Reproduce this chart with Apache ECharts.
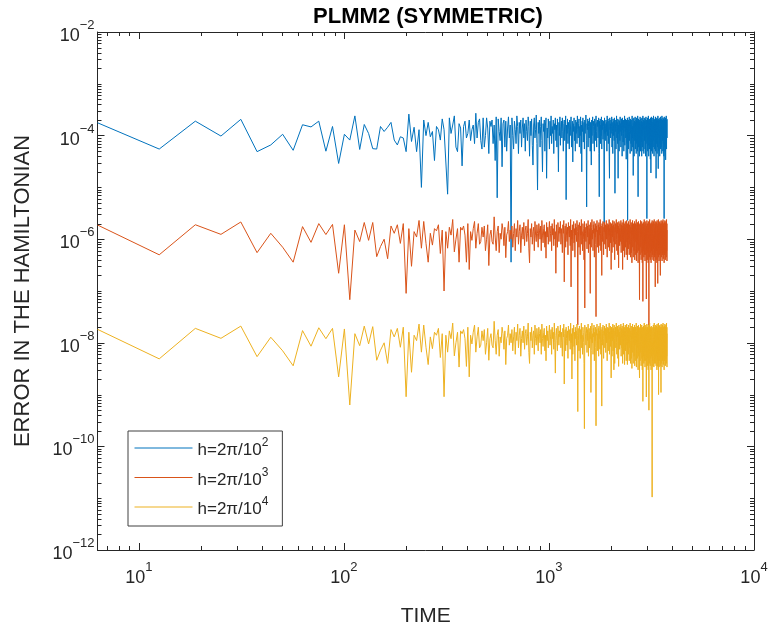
<!DOCTYPE html>
<html>
<head>
<meta charset="utf-8">
<script src="https://cdn.jsdelivr.net/npm/echarts@6/dist/echarts.min.js"></script>
<style>html,body{margin:0;padding:0;background:#fff}#c{width:773px;height:624px}</style>
</head>
<body>
<div id="c"></div>
<script>
// Output every period: TIME = 2*pi*k, k = 1..600
const TIME_STEP = 2 * Math.PI;

// h = 2*pi/10^2, values in units of 1e-4
const UNIT_H2 = 1e-4;
const errH2 = [
1.77,0.55,1.9,0.98,2.06,0.49,0.66,1.06,0.52,1.62,
1.47,1.9,0.50,1.5,0.29,1.06,0.82,2.4,0.54,1.64,
1.1,0.56,0.55,1.5,1.2,1.45,1.8,0.82,0.66,0.95,
0.9,0.49,2.6,0.77,1.45,0.49,1.3,0.10,2.0,1.0,
1.8,0.95,1.2,0.33,1.5,1.3,0.82,2.1,1.3,1.25,
0.074,2.2,1.1,1.6,2.4,0.6,0.49,1.7,1.4,0.26,
1.5,1.9,0.9,1.1,2.0,0.8,1.3,1.6,0.7,2.7,
0.9,1.8,2.1,0.8,0.55,2.2,0.6,1.0,2.2,1.4,
0.45,1.9,1.5,2.0,0.7,1.6,0.33,2.3,0.063,2.1,
1.2,0.8,2.2,0.25,1.7,2.0,0.6,1.9,0.5,1.4,
2.3,0.9,1.6,0.0036,2.2,1.0,0.55,1.9,1.3,0.7,2.4,1.5,0.45,1.8,1.1,2.0,0.6,1.4,2.2,0.9,
1.7,0.5,2.0,1.2,0.8,2.3,1.5,0.4,1.9,1.0,2.1,0.65,0.27,1.6,2.2,0.9,1.3,2.5,0.7,0.089,
1.8,1.1,2.0,0.6,1.5,2.3,0.8,0.2,1.7,1.2,2.0,0.5,1.6,2.2,0.15,1.4,0.9,2.1,1.3,0.55,
1.9,1.0,2.4,0.7,1.5,1.1,2.0,0.45,1.7,1.3,2.2,0.8,1.6,0.6,2.1,1.2,0.2,1.8,1.0,2.3,
0.65,1.5,1.9,0.9,2.2,1.2,0.5,1.7,2.0,0.8,1.4,2.4,0.058,1.6,1.1,2.1,0.7,1.8,1.3,0.55,
2.0,1.0,1.6,2.3,0.6,1.4,1.9,0.31,1.7,1.2,2.2,0.8,1.5,0.5,2.0,1.1,1.8,0.7,2.4,1.3,
0.9,1.7,2.1,0.6,1.5,1.0,2.3,0.45,1.6,0.2,1.9,1.2,2.2,0.75,1.4,1.8,0.55,2.0,1.1,1.6,
2.5,0.8,0.042,1.7,1.3,2.1,0.6,1.5,1.9,0.9,2.2,1.2,0.5,1.8,1.4,0.27,2.0,1.0,1.6,2.3,
0.7,1.5,1.9,1.1,0.5,2.1,1.3,1.7,0.8,2.4,1.2,0.6,1.8,1.5,2.0,0.9,1.4,2.2,0.45,0.066,
1.9,1.2,2.1,0.7,1.6,1.0,2.3,0.55,1.7,1.3,2.0,0.85,1.5,1.9,0.6,0.02,2.2,1.1,1.7,1.4,
0.8,2.0,1.2,1.8,0.5,2.4,1.0,1.6,2.1,0.7,1.4,1.9,0.4,0.15,2.2,1.3,1.7,0.9,2.0,1.1,
1.5,2.3,0.6,1.8,1.2,0.45,2.1,1.0,1.6,1.9,0.8,2.2,1.4,0.077,1.7,1.2,2.0,0.55,1.5,2.4,
0.9,1.3,1.8,0.7,2.1,0.15,1.6,1.1,2.0,0.5,1.4,1.9,0.8,2.3,1.2,1.7,0.6,1.5,2.1,1.0,
1.8,0.4,2.2,1.3,1.6,0.75,2.0,1.1,0.5,1.9,1.4,2.4,0.65,1.7,1.2,2.1,0.9,1.5,0.35,2.0,
1.3,1.8,0.7,2.2,0.023,1.6,1.0,2.0,0.55,1.7,1.4,2.3,0.8,1.2,1.9,0.45,2.1,1.1,1.6,0.7,
2.0,1.3,0.5,1.8,2.4,0.9,1.5,0.6,2.1,0.17,1.7,1.2,2.2,0.4,1.6,1.9,0.8,1.4,2.3,0.55,
1.8,1.1,2.0,0.45,1.6,2.2,0.7,1.3,1.9,0.5,2.4,1.0,0.066,1.7,2.1,0.6,1.5,1.2,2.0,0.4,
1.8,0.9,2.3,1.4,0.5,1.7,2.1,0.75,1.2,1.9,0.4,2.2,1.5,0.6,1.8,1.0,2.4,0.5,1.6,1.3,
2.0,0.45,1.7,2.2,0.8,1.4,1.9,0.55,2.1,1.1,0.4,1.8,2.3,0.7,1.5,1.2,2.0,0.025,1.7,0.9,
2.2,0.5,1.6,1.9,0.65,2.4,1.3,0.4,1.8,1.1,2.1,0.55,1.5,2.0,0.8,1.7,0.35,2.2,1.2,0.19,
1.9,1.0,2.3,0.5,1.6,2.0,0.7,1.4,1.8,0.45,2.2,1.2,0.6,1.9,2.4,0.8,1.5,0.4,2.1,1.3,
1.7,0.55,2.0,1.1,0.9,2.3,0.5,1.6,1.9,0.15,2.1,1.4,0.7,1.8,2.2,0.45,1.3,2.0,0.6,1.7,
2.4,0.8,0.23,1.9,1.2,2.1,0.5,1.6,2.0,0.9,1.5,0.4,2.2,1.3,0.7,1.8,2.3,0.55,1.4,1.9,
0.6,2.1,1.2,1.7,0.45,2.4,1.0,1.5,2.0,0.8,1.8,0.5,2.2,1.3,0.7,1.9,2.1,0.4,1.6,0.025,
2.3,1.1,1.7,0.6,2.0,1.4,0.5,1.9,2.2,0.34,1.5,1.8,0.75,2.4,1.2,0.55,2.0,1.6,0.9,2.1
];

// h = 2*pi/10^3, values in units of 1e-6
const UNIT_H3 = 1e-6;
const errH3 = [
1.88,0.50,1.9,1.24,2.15,0.55,1.3,0.7,0.36,1.75,
0.87,2.0,1.23,1.93,0.22,1.9,0.068,1.5,0.9,2.1,
0.95,2.1,0.46,0.72,1.0,0.42,1.8,1.3,1.9,0.83,
2.0,0.09,1.6,0.3,1.4,1.1,2.3,0.67,2.2,0.83,
0.36,1.3,0.77,1.6,1.45,1.9,0.53,1.5,0.1,1.4,
0.67,1.7,1.2,2.4,0.57,1.0,1.6,0.36,1.7,1.5,
1.8,1.2,0.36,2.0,0.26,1.4,0.95,1.6,2.2,0.67,
1.3,2.0,0.8,0.9,1.7,1.1,1.8,0.6,1.0,1.9,
0.31,1.2,1.5,0.9,0.8,2.7,1.1,0.6,1.4,1.8,
0.55,1.3,1.0,2.0,1.5,0.75,1.7,0.44,1.2,1.4,
2.2,0.9,1.5,1.0,1.8,0.7,1.3,2.0,0.6,1.6,1.1,2.3,0.8,1.4,1.9,0.55,1.2,1.7,1.0,2.1,
0.75,1.5,1.8,0.9,1.3,2.4,0.65,0.35,1.6,1.1,2.0,0.8,1.4,1.7,0.6,2.2,1.2,0.9,1.9,1.3,
0.7,2.0,1.5,1.0,1.8,0.6,2.3,1.2,0.85,1.6,1.9,0.7,1.4,0.43,2.1,1.1,1.7,0.8,1.5,2.2,
0.9,1.3,1.8,0.6,2.0,1.2,1.6,0.75,2.4,1.0,1.4,0.22,1.9,1.1,0.7,2.1,1.5,0.9,1.7,1.3,
2.2,0.8,1.6,1.0,0.55,1.9,1.3,2.3,0.15,1.5,1.8,0.7,2.0,1.2,0.9,1.7,0.5,2.1,1.4,1.1,
1.8,0.75,2.4,0.12,1.5,1.0,1.9,0.6,1.3,2.2,0.85,1.6,0.45,2.0,1.2,1.7,0.9,2.3,1.4,0.022,
1.9,1.1,0.7,2.1,1.5,0.5,1.8,1.2,2.4,0.8,1.4,0.6,2.0,1.6,1.0,0.4,2.2,0.047,1.7,1.3,
0.9,2.0,1.5,0.65,1.8,1.1,2.3,0.55,1.4,1.9,0.8,1.6,0.09,2.1,1.2,0.7,1.7,2.4,1.0,1.5,
0.6,1.9,1.3,2.2,0.45,1.6,1.1,2.0,0.8,0.032,1.8,1.4,2.3,0.7,1.5,1.0,1.9,0.55,2.1,1.2,
1.7,0.75,2.4,1.3,0.6,1.8,1.0,0.2,2.0,1.5,0.9,2.2,1.2,0.5,1.7,1.4,2.1,0.8,1.6,1.9,
0.65,1.3,2.3,1.0,1.8,0.45,1.5,2.0,1.1,0.7,1.9,1.4,2.4,0.6,1.6,1.2,2.1,0.85,1.7,0.26,
2.0,1.3,0.55,1.8,1.1,2.3,0.7,1.5,1.9,0.9,2.2,1.2,0.4,1.7,1.4,2.0,0.8,1.6,2.4,1.0,
0.6,1.9,1.3,2.1,0.5,1.5,1.8,0.28,2.2,1.1,1.6,0.75,2.0,1.4,0.9,1.7,2.3,0.55,1.2,1.9,
0.8,2.1,1.5,0.26,1.8,1.0,2.4,0.6,1.6,1.3,2.0,0.45,1.7,1.1,2.2,0.7,1.4,1.9,0.5,1.6,
2.3,0.9,1.5,0.4,2.0,1.2,1.8,0.65,2.2,1.0,1.4,0.5,1.9,1.6,0.8,2.4,1.1,0.45,1.7,1.3,
2.1,0.55,1.5,0.35,1.9,1.2,2.3,0.7,1.6,0.45,2.0,1.0,1.8,0.6,1.4,2.2,0.4,1.7,0.9,1.5,
2.0,0.5,1.3,2.4,0.38,1.6,1.1,1.9,0.55,2.1,0.8,1.5,0.35,1.8,2.2,0.6,1.2,1.9,0.45,0.068,
1.7,2.0,0.5,1.4,2.3,0.7,1.6,0.4,1.9,1.1,2.2,0.55,1.5,0.35,1.8,2.0,0.063,1.3,0.6,2.1,
1.0,0.45,1.7,2.4,0.5,1.4,1.9,0.38,2.2,0.8,1.6,0.5,2.0,1.2,0.07,1.8,0.6,2.3,1.1,0.4,
1.7,2.0,0.55,1.5,0.35,2.2,1.3,0.6,0.022,1.9,0.45,1.6,2.4,0.7,1.2,0.4,2.0,1.5,0.55,1.8,
0.35,2.1,1.4,0.6,1.9,0.45,2.3,1.0,0.5,1.7,2.0,0.4,1.5,2.2,0.65,1.2,0.38,1.8,2.4,0.5,
1.6,0.45,2.0,1.1,0.12,1.9,0.55,2.2,1.4,0.4,1.7,2.1,0.6,1.3,0.35,2.3,1.0,0.5,1.8,0.14,
2.0,0.6,1.5,2.4,0.45,1.2,1.9,0.38,2.1,0.7,1.6,0.5,2.2,1.3,0.4,0.2,1.8,2.0,0.55,1.4,
2.3,0.45,1.7,0.6,2.0,1.1,0.38,1.9,2.2,0.5,1.5,0.7,2.4,1.2,0.42,1.8,2.0,0.55,1.4,0.35,
2.1,1.6,0.5,1.9,2.3,0.6,1.3,0.4,2.0,1.7,0.55,2.2,1.0,0.45,1.8,2.4,0.6,1.5,0.38,2.0
];

// h = 2*pi/10^4, values in units of 1e-8
const UNIT_H4 = 1e-8;
const errH4 = [
1.82,0.49,1.9,1.22,2.1,0.54,1.28,0.7,0.36,1.72,
0.86,1.95,1.2,1.9,0.22,1.85,0.063,1.5,0.88,2.1,
0.95,2.05,0.46,0.72,1.0,0.4,1.8,1.3,1.9,0.82,
2.0,0.091,1.6,0.27,1.4,1.1,2.3,0.66,2.2,0.82,
0.38,1.3,0.77,1.6,1.4,1.9,0.52,1.5,0.091,1.4,
0.66,1.7,1.2,2.4,0.56,1.0,1.6,0.34,1.7,1.5,
1.8,1.2,0.35,2.0,0.22,1.4,0.95,1.6,2.2,0.66,
1.3,2.0,0.8,0.9,1.7,1.1,1.8,0.6,1.0,1.9,
0.46,1.2,1.5,0.9,0.8,2.6,1.1,0.6,1.4,1.8,
0.55,1.3,1.0,2.0,1.5,0.75,1.7,0.38,1.2,1.4,
2.2,0.9,1.5,1.0,1.8,0.7,1.3,2.0,0.6,1.6,1.1,2.3,0.8,1.4,1.9,0.55,1.2,1.7,1.0,2.1,
0.75,1.5,1.8,0.9,1.3,2.4,0.65,0.4,1.6,1.1,2.0,0.8,1.4,1.7,0.6,2.2,1.2,0.9,1.9,1.3,
0.7,2.0,1.5,1.0,1.8,0.6,2.3,1.2,0.85,1.6,1.9,0.7,1.4,0.45,2.1,1.1,1.7,0.8,1.5,2.2,
0.9,1.3,1.8,0.6,2.0,1.2,1.6,0.75,2.4,1.0,0.26,1.4,1.9,1.1,0.7,2.1,1.5,0.9,1.7,1.3,
2.2,0.8,1.6,1.0,0.55,1.9,1.3,2.3,0.16,1.5,1.8,0.7,2.0,1.2,0.9,1.7,0.5,2.1,1.4,1.1,
1.8,0.75,2.4,1.0,1.5,0.2,1.9,0.6,1.3,2.2,0.85,1.6,0.45,2.0,1.2,1.7,0.9,2.3,1.4,0.047,
1.9,1.1,0.7,2.1,1.5,0.5,1.8,1.2,2.4,0.8,1.4,0.6,2.0,1.6,1.0,0.4,0.022,2.2,1.7,1.3,
0.9,2.0,1.5,0.65,1.8,1.1,2.3,0.55,1.4,1.9,0.8,1.6,1.2,2.1,0.11,0.7,1.7,2.4,1.0,1.5,
0.6,1.9,1.3,2.2,0.45,1.6,1.1,2.0,0.8,0.025,1.8,1.4,2.3,0.7,1.5,1.0,1.9,0.55,2.1,1.2,
1.7,0.75,2.4,1.3,0.6,1.8,1.0,0.06,2.0,1.5,0.9,2.2,1.2,0.5,1.7,1.4,2.1,0.8,1.6,1.9,
0.65,1.3,2.3,1.0,1.8,0.45,1.5,2.0,1.1,0.7,1.9,1.4,2.4,0.6,1.6,1.2,2.1,0.85,1.7,0.21,
2.0,1.3,0.55,1.8,1.1,2.3,0.7,1.5,1.9,0.3,2.2,1.2,0.4,1.7,1.4,2.0,0.8,1.6,2.4,1.0,
0.6,1.9,1.3,2.1,0.5,1.5,1.8,0.35,2.2,1.1,1.6,0.75,2.0,1.4,0.9,1.7,2.3,0.55,1.2,1.9,
0.8,2.1,1.5,0.4,1.8,1.0,2.4,0.6,1.6,1.3,2.0,0.38,1.7,1.1,2.2,0.7,1.4,1.9,0.45,1.6,
2.3,0.9,1.5,0.38,2.0,1.2,1.8,0.6,2.2,1.0,1.4,0.45,1.9,1.6,0.8,2.4,1.1,0.4,1.7,1.3,
2.1,0.5,1.5,0.32,1.9,1.2,2.3,0.65,1.6,0.4,2.0,1.0,1.8,0.55,1.4,2.2,0.36,1.7,0.9,1.5,
2.0,0.45,1.3,2.4,0.34,1.6,1.1,1.9,0.5,2.1,0.8,1.5,0.3,1.8,2.2,0.55,1.2,1.9,0.4,0.21,
1.7,2.0,0.45,1.4,2.3,0.65,1.6,0.36,1.9,1.1,2.2,0.5,1.5,0.3,1.8,2.0,0.074,1.3,0.55,2.1,
1.0,0.4,1.7,2.4,0.45,1.4,1.9,0.34,2.2,0.8,1.6,0.45,2.0,1.2,0.09,1.8,0.55,2.3,1.1,0.36,
1.7,2.0,0.5,1.5,0.3,2.2,1.3,0.55,0.05,1.9,0.4,1.6,2.4,0.65,1.2,0.36,2.0,1.5,0.5,1.8,
0.3,2.1,1.4,0.55,1.9,0.4,0.00105,1.0,0.45,1.7,2.0,0.36,1.5,2.2,0.6,1.2,0.34,1.8,2.4,0.45,
1.6,0.4,2.0,1.1,0.4,1.9,0.5,2.2,1.4,0.36,1.7,2.1,0.55,1.3,0.3,2.3,1.0,0.45,1.8,0.35,
2.0,0.55,1.5,2.4,0.1,1.2,1.9,0.34,2.1,0.65,1.6,0.45,2.2,1.3,0.36,0.45,1.8,2.0,0.5,0.11,
2.3,0.4,1.7,0.55,2.0,1.1,0.34,1.9,2.2,0.45,1.5,0.65,2.4,1.2,0.38,1.8,2.0,0.5,1.4,0.3,
2.1,1.6,0.45,1.9,2.3,0.55,1.3,0.36,2.0,1.7,0.5,2.2,1.0,0.4,1.8,2.4,0.55,1.5,0.34,2.0
];

const seriesNames = ['h=2\u03c0/10^2', 'h=2\u03c0/10^3', 'h=2\u03c0/10^4'];
const seriesColors = ['#0072BD', '#D95319', '#EDB120'];
const seriesValues = [errH2, errH3, errH4];
const seriesUnits = [UNIT_H2, UNIT_H3, UNIT_H4];

const X_MIN = TIME_STEP, X_MAX = 1e4;
const Y_MIN = 1e-12, Y_MAX = 1e-2;
const xMinorTicks = [7,8,9,20,30,40,50,60,70,80,90,200,300,400,500,600,700,800,900,2000,3000,4000,5000,6000,7000,8000,9000];
const yMinorTicks = [];
for (let e = -12; e <= -3; e++) {
  if (e % 2 !== 0) yMinorTicks.push(Math.pow(10, e));
  for (let m = 2; m <= 9; m++) yMinorTicks.push(m * Math.pow(10, e));
}

const FONT = '"Liberation Sans", Arial, Helvetica, sans-serif';
const INK = '#262626';

function powLabel(v) {
  const lg = Math.log10(v);
  const e = Math.round(lg);
  if (Math.abs(lg - e) > 1e-6) return '';
  return '{b|10}{s|' + String(e).replace('-', '\u2212') + '}';
}
const labelRich = {
  b: { fontSize: 18, fontFamily: FONT, color: INK, lineHeight: 26, verticalAlign: 'bottom' },
  s: { fontSize: 13, fontFamily: FONT, color: INK, lineHeight: 14, verticalAlign: 'top' }
};

const chart = echarts.init(document.getElementById('c'), null, { renderer: 'canvas' });

const lineSeries = seriesValues.map((vals, si) => ({
  name: seriesNames[si],
  type: 'line',
  xAxisIndex: 0,
  yAxisIndex: 0,
  data: vals.map((v, i) => [TIME_STEP * (i + 1), v * seriesUnits[si]]),
  symbol: 'none',
  showSymbol: false,
  lineStyle: { width: 1, color: seriesColors[si] },
  itemStyle: { color: seriesColors[si] },
  color: seriesColors[si],
  animation: false,
  silent: true,
  clip: true,
  z: 2
}));

const minorX = {
  type: 'custom',
  name: 'minorX',
  xAxisIndex: 0, yAxisIndex: 0,
  data: xMinorTicks.map(v => [v, 1e-7]),
  encode: { x: 0, y: 1 },
  silent: true, animation: false, clip: false, z: 5,
  renderItem: function (params, api) {
    const cs = params.coordSys;
    const p = api.coord([api.value(0), api.value(1)]);
    const x = Math.round(p[0]) + 0.5;
    const b = cs.y + cs.height, t = cs.y;
    return { type: 'group', children: [
      { type: 'line', shape: { x1: x, y1: b, x2: x, y2: b - 4 }, style: { stroke: INK, lineWidth: 1 } },
      { type: 'line', shape: { x1: x, y1: t, x2: x, y2: t + 4 }, style: { stroke: INK, lineWidth: 1 } }
    ]};
  }
};
const minorY = {
  type: 'custom',
  name: 'minorY',
  xAxisIndex: 0, yAxisIndex: 0,
  data: yMinorTicks.map(v => [100, v]),
  encode: { x: 0, y: 1 },
  silent: true, animation: false, clip: false, z: 5,
  renderItem: function (params, api) {
    const cs = params.coordSys;
    const p = api.coord([api.value(0), api.value(1)]);
    const y = Math.round(p[1]) + 0.5;
    const l = cs.x, r = cs.x + cs.width;
    return { type: 'group', children: [
      { type: 'line', shape: { x1: l, y1: y, x2: l + 4, y2: y }, style: { stroke: INK, lineWidth: 1 } },
      { type: 'line', shape: { x1: r, y1: y, x2: r - 4, y2: y }, style: { stroke: INK, lineWidth: 1 } }
    ]};
  }
};

const axisLineStyle = { show: true, lineStyle: { color: INK, width: 1 } };

chart.setOption({
  backgroundColor: '#ffffff',
  animation: false,
  color: seriesColors,
  title: {
    text: 'PLMM2 (SYMMETRIC)',
    left: 423, top: 1, textAlign: 'center',
    textStyle: { fontFamily: FONT, fontSize: 22, fontWeight: 'bold', color: '#000' }
  },
  grid: { left: 97.5, right: 19, top: 32, bottom: 74, containLabel: false, outerBoundsMode: 'none' },
  legend: {
    data: seriesNames,
    orient: 'vertical',
    left: 128, top: 431,
    padding: [6, 14, 8, 6],
    itemWidth: 58, itemHeight: 14, itemGap: 7.5,
    backgroundColor: '#fff',
    borderColor: '#404040', borderWidth: 1, borderRadius: 0,
    itemStyle: { opacity: 0 },
    lineStyle: { width: 1 },
    formatter: function (n) {
      const parts = n.split('^');
      return '{t|' + parts[0] + '}{u|' + parts[1] + '}';
    },
    textStyle: {
      color: INK, fontFamily: FONT,
      rich: {
        t: { fontSize: 17, fontFamily: FONT, color: INK, lineHeight: 22, verticalAlign: 'bottom' },
        u: { fontSize: 12, fontFamily: FONT, color: INK, lineHeight: 12, verticalAlign: 'top' }
      }
    }
  },
  xAxis: [
    {
      type: 'log', logBase: 10, min: X_MIN, max: X_MAX, position: 'bottom',
      name: 'TIME', nameLocation: 'middle', nameGap: 56,
      nameTextStyle: { fontFamily: FONT, fontSize: 21, color: INK },
      axisLine: axisLineStyle,
      axisTick: { show: true, inside: true, length: 7, lineStyle: { color: INK } },
      minorTick: { show: false },
      splitLine: { show: false },
      axisLabel: { margin: 11, formatter: powLabel, rich: labelRich, showMinLabel: true, hideOverlap: false }
    },
    {
      type: 'log', logBase: 10, min: X_MIN, max: X_MAX, position: 'top',
      axisLine: axisLineStyle,
      axisTick: { show: true, inside: true, length: 7, lineStyle: { color: INK } },
      splitLine: { show: false },
      axisLabel: { show: false }
    }
  ],
  yAxis: [
    {
      type: 'log', logBase: 10, min: Y_MIN, max: Y_MAX, interval: 2, position: 'left',
      name: 'ERROR IN THE HAMILTONIAN', nameLocation: 'middle', nameGap: 64, nameRotate: 90,
      nameTextStyle: { fontFamily: FONT, fontSize: 22, color: INK },
      axisLine: axisLineStyle,
      axisTick: { show: true, inside: true, length: 7, lineStyle: { color: INK } },
      splitLine: { show: false },
      axisLabel: { margin: 3, formatter: powLabel, rich: labelRich, align: 'right' }
    },
    {
      type: 'log', logBase: 10, min: Y_MIN, max: Y_MAX, interval: 2, position: 'right',
      axisLine: axisLineStyle,
      axisTick: { show: true, inside: true, length: 7, lineStyle: { color: INK } },
      splitLine: { show: false },
      axisLabel: { show: false }
    }
  ],
  series: lineSeries.concat([minorX, minorY])
});
</script>
</body>
</html>
